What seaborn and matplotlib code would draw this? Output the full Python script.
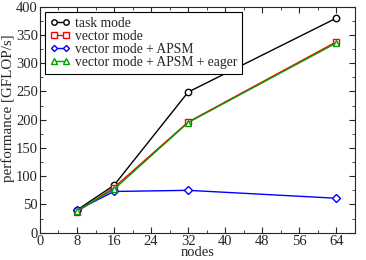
import matplotlib
matplotlib.use("Agg")
import matplotlib.pyplot as plt
import seaborn as sns
from matplotlib.ticker import MultipleLocator

nodes = [8, 16, 32, 64]
task_mode = [40, 84, 249, 380]
vector_mode = [37, 80, 196, 338]
vector_apsm = [40, 73, 75, 61]
vector_apsm_eager = [39, 77, 195, 336]

labels = ["task mode", "vector mode", "vector mode + APSM", "vector mode + APSM + eager"]
series = [task_mode, vector_mode, vector_apsm, vector_apsm_eager]
colors = ["black", "red", "blue", "#00a000"]
markers = ["o", "s", "D", "^"]
msizes = [4.6, 4.3, 3.6, 4.6]

sns.set_style("ticks")
plt.rcParams["font.family"] = ["Liberation Serif", "DejaVu Serif"]

fig = plt.figure(figsize = (3.66, 2.60), dpi = 100)
ax = fig.add_axes([0.109, 0.105, 0.861, 0.869])

for i in range(len(series)):
    sns.lineplot(x = nodes, y = series[i], ax = ax, color = colors[i], marker = markers[i], markersize = msizes[i],
                 markerfacecolor = "white", markeredgecolor = colors[i], markeredgewidth = 1.0,
                 linewidth = 1.0, label = labels[i])

ax.set_xlim(0, 68)
ax.set_ylim(0, 400)
ax.xaxis.set_major_locator(MultipleLocator(8))
ax.xaxis.set_minor_locator(MultipleLocator(4))
ax.yaxis.set_major_locator(MultipleLocator(50))
ax.yaxis.set_minor_locator(MultipleLocator(25))
ax.tick_params(which = "both", direction = "in", top = True, right = True, labelsize = 10.5, pad = 1.5)
ax.tick_params(which = "major", length = 4)
ax.tick_params(which = "minor", length = 2)
for s in ax.spines.values():
    s.set_linewidth(0.8)

ax.set_xlabel("nodes", fontsize = 10.5, labelpad = -1)
ax.set_ylabel("performance [GFLOP/s]", fontsize = 10.8)
ax.yaxis.set_label_coords(-0.078, 0.55)

leg = ax.legend(loc = "upper left", fontsize = 9.8, frameon = True, fancybox = False, edgecolor = "black",
                numpoints = 2, markerscale = 0.85, handlelength = 1.5, handletextpad = 0.3,
                labelspacing = 0.0, borderpad = 0.35, borderaxespad = 0.4, framealpha = 1.0)
leg.get_frame().set_linewidth(0.8)

plt.savefig("out.png", dpi = 100)
